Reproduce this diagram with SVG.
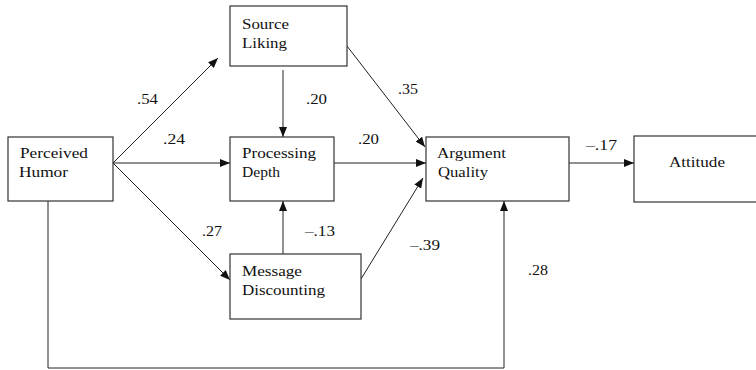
<svg xmlns="http://www.w3.org/2000/svg" width="756" height="370" viewBox="0 0 756 370" font-family="Liberation Serif, Times New Roman, serif">
<style>
.box{fill:#fff;stroke:#333;stroke-width:1.2}
.t{font-size:14px;fill:#111}
.c{fill:none;stroke:#222;stroke-width:1}
</style>
<defs>
<marker id="ah" viewBox="0 0 10 8" refX="10" refY="4" markerWidth="10" markerHeight="8" markerUnits="userSpaceOnUse" orient="auto">
<path d="M0,0 L10,4 L0,8 z" fill="#111"/>
</marker>
</defs>
<rect width="756" height="370" fill="#fff"/>
<g id="connectors">
<line class="c" x1="113" y1="163" x2="218" y2="58" marker-end="url(#ah)"/>
<line class="c" x1="113" y1="163" x2="230" y2="163" marker-end="url(#ah)"/>
<line class="c" x1="113" y1="163" x2="230" y2="280" marker-end="url(#ah)"/>
<line class="c" x1="283" y1="70" x2="283" y2="137" marker-end="url(#ah)"/>
<line class="c" x1="283" y1="254" x2="283" y2="201" marker-end="url(#ah)"/>
<line class="c" x1="347" y1="46" x2="425" y2="147" marker-end="url(#ah)"/>
<line class="c" x1="334" y1="163" x2="426" y2="163" marker-end="url(#ah)"/>
<line class="c" x1="361" y1="279" x2="423" y2="178" marker-end="url(#ah)"/>
<line class="c" x1="569" y1="163" x2="634" y2="163" marker-end="url(#ah)"/>
<polyline class="c" points="48,201 48,368 504,368 504,201" marker-end="url(#ah)"/>
<text class="t" x="137" y="104" textLength="21" lengthAdjust="spacingAndGlyphs">.54</text>
<text class="t" x="163" y="144" textLength="22" lengthAdjust="spacingAndGlyphs">.24</text>
<text class="t" x="306" y="104" textLength="21" lengthAdjust="spacingAndGlyphs">.20</text>
<text class="t" x="358" y="144" textLength="21" lengthAdjust="spacingAndGlyphs">.20</text>
<text class="t" x="398" y="94" textLength="20" lengthAdjust="spacingAndGlyphs">.35</text>
<text class="t" x="586" y="150" textLength="31" lengthAdjust="spacingAndGlyphs">–.17</text>
<text class="t" x="202" y="236" textLength="20" lengthAdjust="spacingAndGlyphs">.27</text>
<text class="t" x="305" y="236" textLength="30" lengthAdjust="spacingAndGlyphs">–.13</text>
<text class="t" x="410" y="250" textLength="30" lengthAdjust="spacingAndGlyphs">–.39</text>
<text class="t" x="528" y="275" textLength="20" lengthAdjust="spacingAndGlyphs">.28</text>
</g>
<g id="source-liking">
<rect class="box" x="230" y="6" width="117" height="60"/>
<text class="t" x="242" y="29" textLength="47" lengthAdjust="spacingAndGlyphs">Source</text>
<text class="t" x="242" y="48" textLength="45" lengthAdjust="spacingAndGlyphs">Liking</text>
</g>
<g id="perceived-humor">
<rect class="box" x="8" y="137" width="105" height="64"/>
<text class="t" x="20" y="158" textLength="68" lengthAdjust="spacingAndGlyphs">Perceived</text>
<text class="t" x="19" y="177" textLength="49" lengthAdjust="spacingAndGlyphs">Humor</text>
</g>
<g id="processing-depth">
<rect class="box" x="230" y="137" width="104" height="64"/>
<text class="t" x="242" y="158" textLength="74" lengthAdjust="spacingAndGlyphs">Processing</text>
<text class="t" x="242" y="177" textLength="38" lengthAdjust="spacingAndGlyphs">Depth</text>
</g>
<g id="message-discounting">
<rect class="box" x="230" y="254" width="131" height="65"/>
<text class="t" x="242" y="276" textLength="60" lengthAdjust="spacingAndGlyphs">Message</text>
<text class="t" x="242" y="295" textLength="83" lengthAdjust="spacingAndGlyphs">Discounting</text>
</g>
<g id="argument-quality">
<rect class="box" x="426" y="137" width="143" height="64"/>
<text class="t" x="437" y="158" textLength="69" lengthAdjust="spacingAndGlyphs">Argument</text>
<text class="t" x="438" y="177" textLength="50" lengthAdjust="spacingAndGlyphs">Quality</text>
</g>
<g id="attitude">
<rect class="box" x="634" y="136" width="130" height="66"/>
<text class="t" x="669" y="167" textLength="56" lengthAdjust="spacingAndGlyphs">Attitude</text>
</g>
</svg>
